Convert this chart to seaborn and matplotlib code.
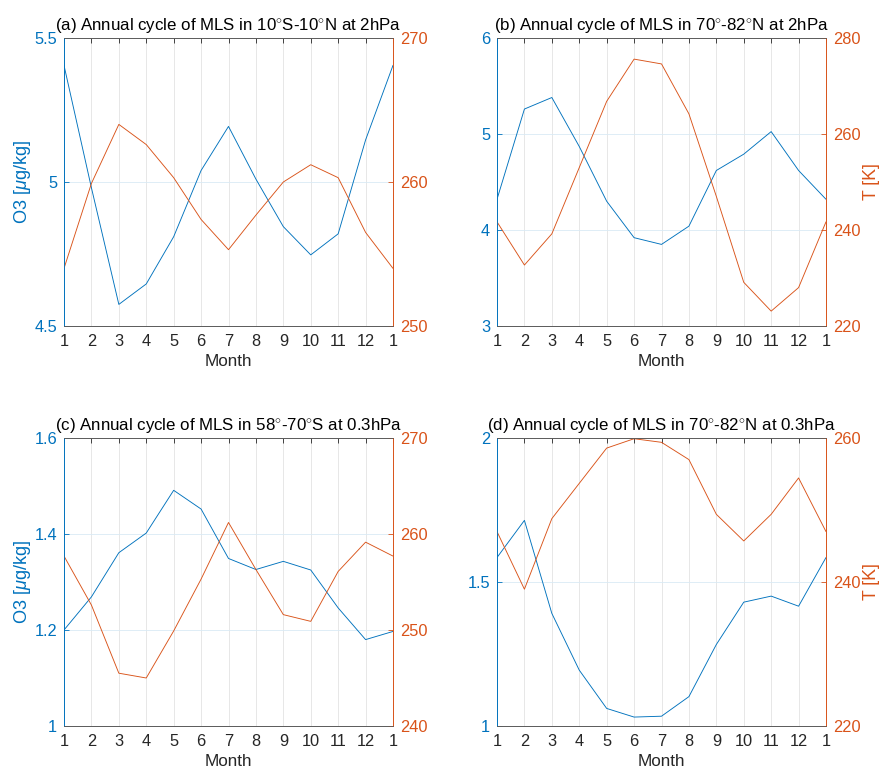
import matplotlib
matplotlib.use("Agg")
import matplotlib.pyplot as plt
import seaborn as sns
import numpy as np

sns.set_style("white")
plt.rcParams['font.family'] = ['Liberation Sans', 'DejaVu Sans']
plt.rcParams['mathtext.fontset'] = 'custom'
plt.rcParams['mathtext.rm'] = 'Liberation Sans'
plt.rcParams['mathtext.it'] = 'Liberation Sans:italic'

# ---------------- data ----------------
months = list(range(1, 14))
month_labels = ['1', '2', '3', '4', '5', '6', '7', '8', '9', '10', '11', '12', '1']

o3_a = [5.405, 4.98, 4.575, 4.646, 4.81, 5.04, 5.193, 5.01, 4.845, 4.747, 4.82, 5.146, 5.405]
t_a = [254.0, 259.9, 264.0, 262.6, 260.3, 257.4, 255.3, 257.7, 260.0, 261.2, 260.3, 256.5, 254.0]

o3_b = [4.32, 5.26, 5.38, 4.87, 4.30, 3.92, 3.85, 4.04, 4.62, 4.79, 5.025, 4.62, 4.32]
t_b = [241.7, 232.7, 239.2, 253.0, 266.8, 275.6, 274.6, 264.2, 247.0, 229.1, 223.1, 228.0, 241.7]

o3_c = [1.200, 1.269, 1.361, 1.402, 1.491, 1.452, 1.349, 1.326, 1.343, 1.325, 1.246, 1.180, 1.197]
t_c = [257.7, 252.6, 245.5, 245.0, 249.9, 255.3, 261.2, 256.3, 251.6, 250.9, 256.1, 259.15, 257.7]

o3_d = [1.585, 1.714, 1.391, 1.194, 1.061, 1.031, 1.034, 1.102, 1.283, 1.430, 1.451, 1.416, 1.585]
t_d = [247.0, 239.0, 248.8, 253.7, 258.6, 259.9, 259.4, 257.0, 249.4, 245.7, 249.4, 254.45, 247.0]

titles = [
    r"(a) Annual cycle of MLS in 10$^{\circ}$S-10$^{\circ}$N at 2hPa",
    r"(b) Annual cycle of MLS in 70$^{\circ}$-82$^{\circ}$N at 2hPa",
    r"(c) Annual cycle of MLS in 58$^{\circ}$-70$^{\circ}$S at 0.3hPa",
    r"(d) Annual cycle of MLS in 70$^{\circ}$-82$^{\circ}$N at 0.3hPa",
]
o3_ticks = [[4.5, 5, 5.5], [3, 4, 5, 6], [1, 1.2, 1.4, 1.6], [1, 1.5, 2]]
o3_ticklabels = [['4.5', '5', '5.5'], ['3', '4', '5', '6'], ['1', '1.2', '1.4', '1.6'], ['1', '1.5', '2']]
t_ticks = [[250, 260, 270], [220, 240, 260, 280], [240, 250, 260, 270], [220, 240, 260]]
o3_series = [o3_a, o3_b, o3_c, o3_d]
t_series = [t_a, t_b, t_c, t_d]
show_o3_label = [True, False, True, False]
show_t_label = [False, True, False, True]

BLUE = '#0072BD'
ORANGE = '#D95319'
DARK = '#262626'
FS_TICK = 11.8
FS_TITLE = 12.2
FS_LABEL = 12.3

fig = plt.figure(figsize=(8.84, 7.73), dpi=100)
W, H = 884, 773
boxes = [(64, 38), (497, 38), (64, 438), (497, 438)]
aw, ah = 329, 288

for i in range(4):
    x0, y0 = boxes[i]
    ax = fig.add_axes([x0 / W, 1 - (y0 + ah) / H, aw / W, ah / H])
    ax2 = ax.twinx()

    sns.lineplot(x=months, y=o3_series[i], ax=ax, color=BLUE, linewidth=0.65)
    sns.lineplot(x=months, y=t_series[i], ax=ax2, color=ORANGE, linewidth=0.65)

    ax.set_xlim(1, 13)
    ax.set_ylim(o3_ticks[i][0], o3_ticks[i][-1])
    ax2.set_ylim(t_ticks[i][0], t_ticks[i][-1])
    ax.set_xticks(months)
    ax.set_xticklabels(month_labels, fontsize=FS_TICK, color=DARK)
    ax.set_yticks(o3_ticks[i])
    ax.set_yticklabels(o3_ticklabels[i], fontsize=FS_TICK, color=BLUE)
    ax2.set_yticks(t_ticks[i])
    ax2.set_yticklabels([str(v) for v in t_ticks[i]], fontsize=FS_TICK, color=ORANGE)

    # grid
    ax.grid(False)
    ax2.grid(False)
    for m in months[1:-1]:
        ax.axvline(m, color='#e3e3e3', linewidth=0.6, zorder=0)
    for yv in o3_ticks[i][1:-1]:
        ax.axhline(yv, color='#d9eaf5', linewidth=0.6, zorder=0)

    ax.tick_params(axis='x', direction='in', length=3.5, width=0.6, color=DARK,
                   top=True, pad=6)
    ax.tick_params(axis='y', direction='in', length=3.5, width=0.6, color=BLUE, pad=5)
    ax2.tick_params(axis='y', direction='in', length=3.5, width=0.6, color=ORANGE, pad=5)

    for a in (ax, ax2):
        a.spines['top'].set_color('#5a5a5a')
        a.spines['bottom'].set_color('#5a5a5a')
        a.spines['left'].set_color(BLUE)
        a.spines['right'].set_color(ORANGE)
        for s in a.spines.values():
            s.set_linewidth(0.6)
            s.set_visible(True)

    ax.set_xlabel('Month', fontsize=FS_LABEL, color=DARK, labelpad=3)
    if show_o3_label[i]:
        ax.set_ylabel(r'O3 [$\mu$g/kg]', fontsize=FS_LABEL + 0.8, color=BLUE, labelpad=1)
    else:
        ax.set_ylabel('')
    if show_t_label[i]:
        ax2.set_ylabel('T [K]', fontsize=FS_LABEL + 0.5, color=ORANGE, labelpad=2)
    else:
        ax2.set_ylabel('')
    ax.set_title(titles[i], fontsize=FS_TITLE, color='black', pad=6)

fig.savefig('out.png', dpi=100, facecolor='white')
